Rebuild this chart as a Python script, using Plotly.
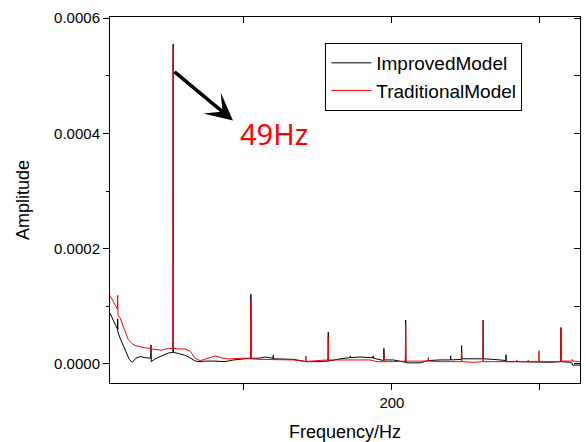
import plotly.graph_objects as go

# ---- data ----
improved_f = [9.5, 14.6, 14.7, 14.8, 16.3, 19.6, 22.5, 24.6, 27.0, 29.8, 33.1, 37.0, 37.2, 37.4,
              40.0, 44.4, 48.9, 52.0, 52.2, 52.4, 56.0, 60.3, 64.0, 67.1, 70.4, 73.8, 80.6, 87.3,
              93.0, 98.6, 104.5, 104.7, 104.9, 110.0, 114.4, 119.6, 119.8, 120.0, 133.4, 142.4,
              150.0, 156.8, 157.0, 157.2, 165.0, 171.7, 171.9, 172.1, 178.4, 185.2, 187.2, 187.4,
              187.6, 194.4, 194.6, 194.8, 200.9, 205.0, 209.1, 209.3, 209.5, 219.0, 224.6, 232.5,
              239.5, 239.7, 239.9, 246.9, 247.1, 247.3, 255.0, 261.5, 261.7, 261.9, 268.5, 276.9,
              277.1, 277.3, 284.3, 299.4, 306.8, 314.0, 314.2, 314.4, 320.0, 321.9, 322.1, 327.1]
improved_amp = [8.8e-5, 6.0e-5, 7.8e-5, 5.6e-5, 4.5e-5, 2.4e-5, 8e-6, 3e-6, 1.0e-5, 1.3e-5, 1.1e-5, 1.0e-5, 3.3e-5, 4e-6,
                9e-6, 1.4e-5, 1.9e-5, 2.0e-5, 5.55e-4, 2.0e-5, 1.8e-5, 1.5e-5, 1.0e-5, 5e-6, 4e-6, 5e-6, 5e-6, 4e-6,
                7e-6, 9e-6, 1.0e-5, 1.21e-4, 1.0e-5, 1.0e-5, 1.2e-5, 1.0e-5, 1.5e-5, 9e-6, 8e-6, 4e-6,
                4e-6, 5e-6, 5.5e-5, 5e-6, 9e-6, 1.1e-5, 1.4e-5, 1.1e-5, 1.2e-5, 1.1e-5, 1.1e-5, 1.4e-5,
                1.0e-5, 6e-6, 2.7e-5, 7e-6, 7e-6, 5e-6, 3e-6, 7.6e-5, 2e-6, 2e-6, 6e-6, 7e-6,
                7e-6, 1.4e-5, 7e-6, 8e-6, 3.2e-5, 9e-6, 9e-6, 9e-6, 7.6e-5, 9e-6, 8e-6, 6e-6,
                1.6e-5, 4e-6, 4e-6, 3e-6, 3e-6, 4e-6, 6.3e-5, 4e-6, 3e-6, 1e-6, -2e-6, -2e-6]

traditional_f = [9.5, 14.5, 14.7, 14.9, 16.3, 19.6, 21.9, 24.6, 26.4, 29.8, 33.1, 37.0, 37.2, 37.4,
                 44.4, 48.9, 52.0, 52.2, 52.4, 56.0, 60.3, 63.7, 67.1, 70.4, 75.0, 80.6, 86.0, 89.6,
                 98.6, 104.5, 104.7, 104.9, 110.9, 114.4, 133.4, 141.7, 141.9, 142.1, 150.0, 156.8,
                 157.0, 157.2, 171.7, 185.2, 190.0, 194.4, 194.6, 194.8, 200.9, 209.1, 209.3, 209.5,
                 219.0, 224.4, 224.6, 224.8, 232.5, 247.0, 247.1, 247.3, 255.0, 261.5, 261.7, 261.9,
                 268.5, 284.1, 284.3, 284.5, 291.9, 292.1, 292.3, 299.2, 299.4, 299.6, 306.8, 314.0,
                 314.2, 314.4, 321.7, 321.9, 322.1, 327.1]
traditional_amp = [1.19e-4, 9.5e-5, 1.19e-4, 8.5e-5, 8.0e-5, 5.8e-5, 4.2e-5, 3.5e-5, 3.2e-5, 3.0e-5, 2.8e-5, 2.7e-5, 3.3e-5, 2.6e-5,
                   2.4e-5, 2.7e-5, 2.7e-5, 5.49e-4, 2.7e-5, 2.6e-5, 2.6e-5, 2.2e-5, 1.0e-5, 5.7e-6, 9e-6, 1.4e-5, 1.0e-5, 8.7e-6,
                   1.0e-5, 1.0e-5, 1.1e-4, 9e-6, 8e-6, 8e-6, 7e-6, 4e-6, 1.4e-5, 4e-6, 6e-6, 7e-6,
                   4.7e-5, 7e-6, 7e-6, 7e-6, 4e-6, 4e-6, 1.85e-5, 4e-6, 4e-6, 5e-6, 6.9e-5, 5e-6,
                   5e-6, 5e-6, 1.1e-5, 5e-6, 4e-6, 4e-6, 2.1e-5, 4e-6, 3e-6, 4e-6, 7.5e-5, 4e-6,
                   4e-6, 4e-6, 7e-6, 4e-6, 4e-6, 7e-6, 4e-6, 4e-6, 2.3e-5, 4e-6, 4e-6, 4e-6,
                   6.3e-5, 5e-6, 5e-6, 8e-6, 5e-6, 4e-6]

x_tick_vals = [100, 200, 300]
x_tick_text = ["", "200", ""]
y_tick_vals = [0.0, 0.0002, 0.0004, 0.0006]
y_tick_text = ["0.0000", "0.0002", "0.0004", "0.0006"]

x_range = [9.5, 327.1]
y_range = [-0.000033, 0.000602]

FONT = "Arial, 'Liberation Sans', sans-serif"

fig = go.Figure()
fig.add_trace(go.Scatter(x=improved_f, y=improved_amp, mode="lines", name="ImprovedModel",
                         line=dict(color="#000000", width=1)))
fig.add_trace(go.Scatter(x=traditional_f, y=traditional_amp, mode="lines", name="TraditionalModel",
                         line=dict(color="#ff0000", width=1)))
# helper (empty) trace for the inward ticks on the top/right frame
fig.add_trace(go.Scatter(x=[], y=[], xaxis="x2", yaxis="y2", showlegend=False, hoverinfo="skip"))

fig.update_layout(
    width=586, height=442,
    margin=dict(l=110, r=6, t=17, b=59, autoexpand=False),
    paper_bgcolor="white", plot_bgcolor="white",
    font=dict(family=FONT, size=15, color="#000000"),
    showlegend=True,
    legend=dict(x=0.458, y=0.929, xanchor="left", yanchor="top",
                bordercolor="#000000", borderwidth=1, bgcolor="white",
                font=dict(family=FONT, size=19, color="#000000"),
                tracegroupgap=0, itemwidth=40),
    xaxis=dict(range=x_range, showgrid=False, zeroline=False, automargin=False,
               showline=True, linecolor="#000000", linewidth=1, mirror=True,
               ticks="outside", ticklen=6, tickcolor="#000000",
               tickmode="array", tickvals=x_tick_vals, ticktext=x_tick_text,
               tickfont=dict(family=FONT, size=15),
               title=dict(text="Frequency/Hz", font=dict(family=FONT, size=18), standoff=18)),
    yaxis=dict(range=y_range, showgrid=False, zeroline=False, automargin=False,
               showline=True, linecolor="#000000", linewidth=1, mirror=True,
               ticks="outside", ticklen=6, tickcolor="#000000",
               tickmode="array", tickvals=y_tick_vals, ticktext=y_tick_text,
               tickfont=dict(family=FONT, size=15),
               minor=dict(ticks="outside", ticklen=3, dtick=0.0001, tick0=0, tickcolor="#000000", showgrid=False),
               title=dict(text="Amplitude", font=dict(family=FONT, size=18), standoff=19)),
    xaxis2=dict(range=x_range, overlaying="x", side="top", anchor="y", automargin=False,
                showgrid=False, zeroline=False, showline=False,
                ticks="inside", ticklen=6, tickcolor="#000000",
                tickmode="array", tickvals=x_tick_vals, showticklabels=False),
    yaxis2=dict(range=y_range, overlaying="y", side="right", anchor="x", automargin=False,
                showgrid=False, zeroline=False, showline=False,
                ticks="inside", ticklen=6, tickcolor="#000000",
                tickmode="linear", tick0=0, dtick=0.0001, showticklabels=False),
)

# arrow pointing at the 49 Hz component
fig.add_annotation(x=92.6, y=0.0004225, ax=52.1, ay=0.000509, xref="x", yref="y",
                   axref="x", ayref="y", text="", showarrow=True,
                   arrowhead=3, arrowsize=1.3, arrowwidth=3.5, arrowcolor="#000000", standoff=0)
fig.add_annotation(x=120.3, y=0.0004, xref="x", yref="y", text="49Hz", showarrow=False,
                   font=dict(family="'Noto Sans', sans-serif", size=29, color="#ff0000"))

fig.write_html("out.html")
